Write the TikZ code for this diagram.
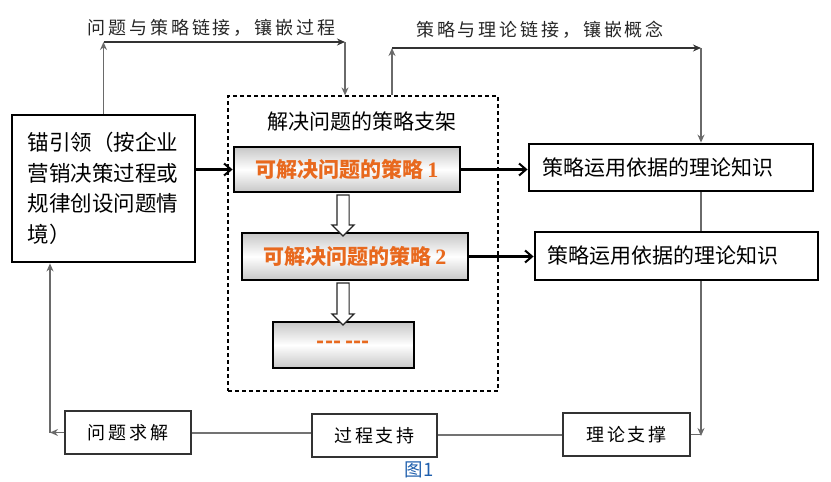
\documentclass[tikz,border=0pt]{standalone}
\usepackage{fontspec}
\newfontfamily\cjk{Noto Sans CJK SC}
\newfontfamily\cjkl[LetterSpace=16]{Noto Sans CJK SC}
\newfontfamily\dig{Liberation Serif}
\usetikzlibrary{arrows.meta,shapes.arrows}
\definecolor{orng}{HTML}{E8691E}
\definecolor{figblue}{HTML}{1F5FAD}
\definecolor{conn}{HTML}{6A6A6A}
\begin{document}
\begin{tikzpicture}[x=1pt,y=-1pt,
  thickbox/.style={draw=black, line width=2.8pt, inner sep=0pt, fill=white},
  stratbox/.style={draw=black, line width=2.8pt, inner sep=0pt,
    top color=black!22, bottom color=black!22, middle color=white,
    text=orng, font=\cjk\bfseries\fontsize{21}{25}\selectfont},
  smallbox/.style={draw=black!80, line width=1.4pt, inner sep=0pt, fill=white,
    font=\cjkl\fontsize{18}{22}\selectfont},
  lab/.style={font=\cjkl\fontsize{18}{22}\selectfont, text=black!85, inner sep=0pt},
  gconn/.style={draw=conn, line width=1.5pt},
  garrow/.style={gconn, -{Stealth[length=8pt,width=7pt]}},
  barrow/.style={draw=black, line width=2.2pt, -{Straight Barb[length=7pt,width=12pt,line width=2pt]}},
  hollow/.style={single arrow, draw=black!85, line width=1.2pt, fill=white,
    shape border rotate=270, inner sep=5.5pt, single arrow head extend=5pt,
    single arrow head indent=0pt}
]
\useasboundingbox (0,0) rectangle (831,482);

% dashed frame
\node[draw=black, line width=1.2pt, dash pattern=on 4pt off 3pt,
      minimum width=270pt, minimum height=295pt, inner sep=0pt] (fw) at (363,243.5) {};
\node[font=\cjk\fontsize{21}{25}\selectfont, inner sep=0pt] (title) at (362,122) {解决问题的策略支架};

% left box
\node[thickbox, minimum width=183pt, minimum height=147pt,
      text width=152pt, align=left,
      font=\cjk\fontsize{21.5}{30.5}\selectfont] (lb) at (103.5,188.5)
      {锚引领（按企业\\营销决策过程或\\规律创设问题情\\境）};

% strategy boxes
\node[stratbox, minimum width=226pt, minimum height=45pt] (s1) at (347,169.5)
      {可解决问题的策略\,{\dig\bfseries\fontsize{22}{25}\selectfont 1}};
\node[stratbox, minimum width=226pt, minimum height=47pt] (s2) at (355,256.5)
      {可解决问题的策略\,{\dig\bfseries\fontsize{22}{25}\selectfont 2}};
\node[stratbox, minimum width=141pt, minimum height=46pt] (s3) at (343.5,345)
      {--- ---};

% hollow arrows
\node[hollow, minimum height=41pt] (h1) at (343,212.5) {};
\node[hollow, minimum height=42pt] (h2) at (343,301) {};

% right boxes
\node[thickbox, minimum width=284pt, minimum height=47pt, text width=258pt, align=left,
      font=\cjk\fontsize{21}{25}\selectfont] (r1) at (671,167.5) {策略运用依据的理论知识};
\node[thickbox, minimum width=283pt, minimum height=48pt, text width=258pt, align=left,
      font=\cjk\fontsize{21}{25}\selectfont] (r2) at (676.5,256) {策略运用依据的理论知识};

% bottom boxes
\node[smallbox, minimum width=126pt, minimum height=43pt] (qs) at (128,432.5) {问题求解};
\node[smallbox, minimum width=125pt, minimum height=43pt] (gc) at (374.5,435.5) {过程支持};
\node[smallbox, minimum width=127pt, minimum height=43pt] (ll) at (626.5,434.5) {理论支撑};

% caption
\node[font=\cjk\fontsize{18.5}{22}\selectfont, text=figblue, inner sep=0pt] (cap) at (419,470) {图1};

% top labels
\node[lab] (t1) at (211.5,28) {问题与策略链接，镶嵌过程};
\node[lab] (t2) at (540,30) {策略与理论链接，镶嵌概念};

% coordinates
\coordinate (c1) at (103.5,42);
\coordinate (c2) at (345,42);
\coordinate (c3) at (392,48);
\coordinate (c4) at (701,48);
\coordinate (c5) at (701,436);
\coordinate (c6) at (50,432.5);

% top connectors
\draw[garrow] (lb.north) -- (c1);
\draw[garrow, draw=black!80] (c1) -- (c2);
\draw[garrow] (c2) -- (c2 |- fw.north);
\draw[garrow] (c3 |- fw.north) -- (c3);
\draw[garrow, draw=black!80] (c3) -- (c4);
\draw[garrow] (c4) -- (c4 |- r1.north);

% right vertical
\draw[gconn] (c4 |- r1.south) -- (c4 |- r2.north);
\draw[garrow] (c4 |- r2.south) -- (c5);
\draw[gconn] (ll.east) -- (ll.east -| c5);

% bottom connectors
\draw[gconn, line width=2pt, draw=black!55] (ll.west) -- (ll.west -| gc.east);
\draw[gconn, line width=2pt, draw=black!55] (gc.west |- qs.east) -- (qs.east);
\draw[garrow] (qs.west) -- (c6);
\draw[garrow] (c6) -- (c6 |- lb.south);

% black arrows
\draw[barrow] (s1.west -| lb.east) -- (s1.west);
\draw[barrow] (s1.east) -- (s1.east -| r1.west);
\draw[barrow] (s2.east) -- (s2.east -| r2.west);
\end{tikzpicture}
\end{document}
